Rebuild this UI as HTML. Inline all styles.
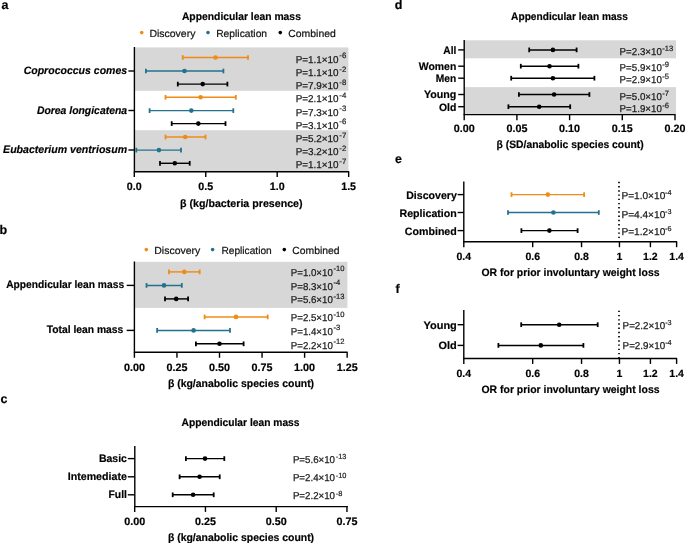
<!DOCTYPE html>
<html><head><meta charset="utf-8"><title>Figure</title>
<style>
html,body{margin:0;padding:0;background:#fff;}
svg{display:block;text-rendering:geometricPrecision;font-family:'Liberation Sans', Arial, Helvetica, sans-serif;}
</style></head><body>
<svg width="685" height="543" viewBox="0 0 685 543">
<rect width="685" height="543" fill="#fff"/>
<text x="1.50" y="9.00" text-anchor="start" fill="#000" style="font-size:12.5px;font-weight:bold;stroke:#000;stroke-width:0.18px;">a</text>
<text x="181.90" y="19.60" text-anchor="start" fill="#000" style="font-size:10.8px;font-weight:bold;stroke:#000;stroke-width:0.18px;" textLength="119.00" lengthAdjust="spacingAndGlyphs">Appendicular lean mass</text>
<circle cx="141.7" cy="32.60" r="1.8" fill="#F08C14"/>
<text stroke="#111" stroke-width="0.2" x="149.40" y="36.70" text-anchor="start" fill="#111" style="font-size:10.3px;" textLength="46.00" lengthAdjust="spacingAndGlyphs">Discovery</text>
<circle cx="208.0" cy="32.60" r="1.8" fill="#23728D"/>
<text stroke="#111" stroke-width="0.2" x="216.20" y="36.70" text-anchor="start" fill="#111" style="font-size:10.3px;" textLength="50.90" lengthAdjust="spacingAndGlyphs">Replication</text>
<circle cx="280.3" cy="32.60" r="1.8" fill="#000"/>
<text stroke="#111" stroke-width="0.2" x="288.30" y="36.70" text-anchor="start" fill="#111" style="font-size:10.3px;" textLength="47.50" lengthAdjust="spacingAndGlyphs">Combined</text>
<rect x="134.40" y="47.40" width="214.00" height="43.40" fill="#D7D7D7"/>
<rect x="134.40" y="130.20" width="214.00" height="41.30" fill="#D7D7D7"/>
<line x1="182.70" y1="57.50" x2="248.00" y2="57.50" stroke="#F08C14" stroke-width="1.45" />
<line x1="182.70" y1="55.15" x2="182.70" y2="59.85" stroke="#F08C14" stroke-width="1.7999999999999998" />
<line x1="248.00" y1="55.15" x2="248.00" y2="59.85" stroke="#F08C14" stroke-width="1.7999999999999998" />
<circle cx="215.50" cy="57.50" r="2.3" fill="#F08C14"/>
<text x="295.70" y="62.60" fill="#1a1a1a" stroke="#1a1a1a" stroke-width="0.25" style="font-size:10.0px" textLength="42.9" lengthAdjust="spacingAndGlyphs">P=1.1×10</text>
<text x="339.30" y="58.00" fill="#1a1a1a" stroke="#1a1a1a" stroke-width="0.2" style="font-size:7.8px">-6</text>
<line x1="145.90" y1="71.00" x2="223.40" y2="71.00" stroke="#23728D" stroke-width="1.45" />
<line x1="145.90" y1="68.65" x2="145.90" y2="73.35" stroke="#23728D" stroke-width="1.7999999999999998" />
<line x1="223.40" y1="68.65" x2="223.40" y2="73.35" stroke="#23728D" stroke-width="1.7999999999999998" />
<circle cx="184.50" cy="71.00" r="2.3" fill="#23728D"/>
<text x="295.70" y="76.10" fill="#1a1a1a" stroke="#1a1a1a" stroke-width="0.25" style="font-size:10.0px" textLength="42.9" lengthAdjust="spacingAndGlyphs">P=1.1×10</text>
<text x="339.30" y="71.50" fill="#1a1a1a" stroke="#1a1a1a" stroke-width="0.2" style="font-size:7.8px">-2</text>
<line x1="177.80" y1="84.10" x2="227.40" y2="84.10" stroke="#000" stroke-width="1.45" />
<line x1="177.80" y1="81.75" x2="177.80" y2="86.45" stroke="#000" stroke-width="1.7999999999999998" />
<line x1="227.40" y1="81.75" x2="227.40" y2="86.45" stroke="#000" stroke-width="1.7999999999999998" />
<circle cx="202.70" cy="84.10" r="2.3" fill="#000"/>
<text x="295.70" y="89.20" fill="#1a1a1a" stroke="#1a1a1a" stroke-width="0.25" style="font-size:10.0px" textLength="42.9" lengthAdjust="spacingAndGlyphs">P=7.9×10</text>
<text x="339.30" y="84.60" fill="#1a1a1a" stroke="#1a1a1a" stroke-width="0.2" style="font-size:7.8px">-8</text>
<line x1="165.50" y1="97.30" x2="235.80" y2="97.30" stroke="#F08C14" stroke-width="1.45" />
<line x1="165.50" y1="94.95" x2="165.50" y2="99.65" stroke="#F08C14" stroke-width="1.7999999999999998" />
<line x1="235.80" y1="94.95" x2="235.80" y2="99.65" stroke="#F08C14" stroke-width="1.7999999999999998" />
<circle cx="200.60" cy="97.30" r="2.3" fill="#F08C14"/>
<text x="295.70" y="102.40" fill="#1a1a1a" stroke="#1a1a1a" stroke-width="0.25" style="font-size:10.0px" textLength="42.9" lengthAdjust="spacingAndGlyphs">P=2.1×10</text>
<text x="339.30" y="97.80" fill="#1a1a1a" stroke="#1a1a1a" stroke-width="0.2" style="font-size:7.8px">-4</text>
<line x1="149.60" y1="110.60" x2="233.30" y2="110.60" stroke="#23728D" stroke-width="1.45" />
<line x1="149.60" y1="108.25" x2="149.60" y2="112.95" stroke="#23728D" stroke-width="1.7999999999999998" />
<line x1="233.30" y1="108.25" x2="233.30" y2="112.95" stroke="#23728D" stroke-width="1.7999999999999998" />
<circle cx="191.30" cy="110.60" r="2.3" fill="#23728D"/>
<text x="295.70" y="115.70" fill="#1a1a1a" stroke="#1a1a1a" stroke-width="0.25" style="font-size:10.0px" textLength="42.9" lengthAdjust="spacingAndGlyphs">P=7.3×10</text>
<text x="339.30" y="111.10" fill="#1a1a1a" stroke="#1a1a1a" stroke-width="0.2" style="font-size:7.8px">-3</text>
<line x1="171.70" y1="123.60" x2="225.50" y2="123.60" stroke="#000" stroke-width="1.45" />
<line x1="171.70" y1="121.25" x2="171.70" y2="125.95" stroke="#000" stroke-width="1.7999999999999998" />
<line x1="225.50" y1="121.25" x2="225.50" y2="125.95" stroke="#000" stroke-width="1.7999999999999998" />
<circle cx="198.30" cy="123.60" r="2.3" fill="#000"/>
<text x="295.70" y="128.70" fill="#1a1a1a" stroke="#1a1a1a" stroke-width="0.25" style="font-size:10.0px" textLength="42.9" lengthAdjust="spacingAndGlyphs">P=3.1×10</text>
<text x="339.30" y="124.10" fill="#1a1a1a" stroke="#1a1a1a" stroke-width="0.2" style="font-size:7.8px">-6</text>
<line x1="165.50" y1="137.00" x2="205.50" y2="137.00" stroke="#F08C14" stroke-width="1.45" />
<line x1="165.50" y1="134.65" x2="165.50" y2="139.35" stroke="#F08C14" stroke-width="1.7999999999999998" />
<line x1="205.50" y1="134.65" x2="205.50" y2="139.35" stroke="#F08C14" stroke-width="1.7999999999999998" />
<circle cx="185.20" cy="137.00" r="2.3" fill="#F08C14"/>
<text x="295.70" y="142.10" fill="#1a1a1a" stroke="#1a1a1a" stroke-width="0.25" style="font-size:10.0px" textLength="42.9" lengthAdjust="spacingAndGlyphs">P=5.2×10</text>
<text x="339.30" y="137.50" fill="#1a1a1a" stroke="#1a1a1a" stroke-width="0.2" style="font-size:7.8px">-7</text>
<line x1="136.30" y1="150.10" x2="181.00" y2="150.10" stroke="#23728D" stroke-width="1.45" />
<line x1="136.30" y1="147.75" x2="136.30" y2="152.45" stroke="#23728D" stroke-width="1.7999999999999998" />
<line x1="181.00" y1="147.75" x2="181.00" y2="152.45" stroke="#23728D" stroke-width="1.7999999999999998" />
<circle cx="158.90" cy="150.10" r="2.3" fill="#23728D"/>
<text x="295.70" y="155.20" fill="#1a1a1a" stroke="#1a1a1a" stroke-width="0.25" style="font-size:10.0px" textLength="42.9" lengthAdjust="spacingAndGlyphs">P=3.2×10</text>
<text x="339.30" y="150.60" fill="#1a1a1a" stroke="#1a1a1a" stroke-width="0.2" style="font-size:7.8px">-2</text>
<line x1="160.00" y1="163.30" x2="189.70" y2="163.30" stroke="#000" stroke-width="1.45" />
<line x1="160.00" y1="160.95" x2="160.00" y2="165.65" stroke="#000" stroke-width="1.7999999999999998" />
<line x1="189.70" y1="160.95" x2="189.70" y2="165.65" stroke="#000" stroke-width="1.7999999999999998" />
<circle cx="174.80" cy="163.30" r="2.3" fill="#000"/>
<text x="295.70" y="168.40" fill="#1a1a1a" stroke="#1a1a1a" stroke-width="0.25" style="font-size:10.0px" textLength="42.9" lengthAdjust="spacingAndGlyphs">P=1.1×10</text>
<text x="339.30" y="163.80" fill="#1a1a1a" stroke="#1a1a1a" stroke-width="0.2" style="font-size:7.8px">-7</text>
<line x1="134.40" y1="47.00" x2="134.40" y2="172.20" stroke="#000" stroke-width="1.4" />
<line x1="133.90" y1="171.70" x2="349.10" y2="171.70" stroke="#000" stroke-width="1.4" />
<line x1="134.30" y1="171.70" x2="134.30" y2="177.00" stroke="#000" stroke-width="1.4" />
<text x="134.30" y="190.10" text-anchor="middle" fill="#000" style="font-size:10.8px;font-weight:bold;stroke:#000;stroke-width:0.18px;" textLength="14.90" lengthAdjust="spacingAndGlyphs">0.0</text>
<line x1="205.75" y1="171.70" x2="205.75" y2="177.00" stroke="#000" stroke-width="1.4" />
<text x="205.75" y="190.10" text-anchor="middle" fill="#000" style="font-size:10.8px;font-weight:bold;stroke:#000;stroke-width:0.18px;" textLength="14.90" lengthAdjust="spacingAndGlyphs">0.5</text>
<line x1="277.20" y1="171.70" x2="277.20" y2="177.00" stroke="#000" stroke-width="1.4" />
<text x="277.20" y="190.10" text-anchor="middle" fill="#000" style="font-size:10.8px;font-weight:bold;stroke:#000;stroke-width:0.18px;" textLength="14.90" lengthAdjust="spacingAndGlyphs">1.0</text>
<line x1="348.65" y1="171.70" x2="348.65" y2="177.00" stroke="#000" stroke-width="1.4" />
<text x="348.65" y="190.10" text-anchor="middle" fill="#000" style="font-size:10.8px;font-weight:bold;stroke:#000;stroke-width:0.18px;" textLength="14.90" lengthAdjust="spacingAndGlyphs">1.5</text>
<line x1="128.40" y1="71.00" x2="134.40" y2="71.00" stroke="#000" stroke-width="1.4" />
<text x="23.70" y="74.30" text-anchor="start" fill="#000" style="font-size:10.8px;font-weight:bold;stroke:#000;stroke-width:0.18px;font-style:italic;" textLength="103.40" lengthAdjust="spacingAndGlyphs">Coprococcus comes</text>
<line x1="128.40" y1="110.50" x2="134.40" y2="110.50" stroke="#000" stroke-width="1.4" />
<text x="36.90" y="113.80" text-anchor="start" fill="#000" style="font-size:10.8px;font-weight:bold;stroke:#000;stroke-width:0.18px;font-style:italic;" textLength="90.20" lengthAdjust="spacingAndGlyphs">Dorea longicatena</text>
<line x1="128.40" y1="150.00" x2="134.40" y2="150.00" stroke="#000" stroke-width="1.4" />
<text x="3.10" y="153.30" text-anchor="start" fill="#000" style="font-size:10.8px;font-weight:bold;stroke:#000;stroke-width:0.18px;font-style:italic;" textLength="124.00" lengthAdjust="spacingAndGlyphs">Eubacterium ventriosum</text>
<text x="241.30" y="206.70" text-anchor="middle" fill="#000" style="font-size:10.8px;font-weight:bold;stroke:#000;stroke-width:0.18px;" textLength="122.50" lengthAdjust="spacingAndGlyphs">β (kg/bacteria presence)</text>
<text x="-0.50" y="234.20" text-anchor="start" fill="#000" style="font-size:12.5px;font-weight:bold;stroke:#000;stroke-width:0.18px;">b</text>
<circle cx="146.3" cy="249.60" r="1.8" fill="#F08C14"/>
<text stroke="#111" stroke-width="0.2" x="154.30" y="253.70" text-anchor="start" fill="#111" style="font-size:10.3px;" textLength="46.00" lengthAdjust="spacingAndGlyphs">Discovery</text>
<circle cx="212.6" cy="249.60" r="1.8" fill="#23728D"/>
<text stroke="#111" stroke-width="0.2" x="221.40" y="253.70" text-anchor="start" fill="#111" style="font-size:10.3px;" textLength="50.40" lengthAdjust="spacingAndGlyphs">Replication</text>
<circle cx="284.3" cy="249.60" r="1.8" fill="#000"/>
<text stroke="#111" stroke-width="0.2" x="292.30" y="253.70" text-anchor="start" fill="#111" style="font-size:10.3px;" textLength="47.30" lengthAdjust="spacingAndGlyphs">Combined</text>
<rect x="134.40" y="261.80" width="213.00" height="46.10" fill="#D7D7D7"/>
<line x1="169.00" y1="271.90" x2="199.70" y2="271.90" stroke="#F08C14" stroke-width="1.45" />
<line x1="169.00" y1="269.55" x2="169.00" y2="274.25" stroke="#F08C14" stroke-width="1.7999999999999998" />
<line x1="199.70" y1="269.55" x2="199.70" y2="274.25" stroke="#F08C14" stroke-width="1.7999999999999998" />
<circle cx="184.30" cy="271.90" r="2.3" fill="#F08C14"/>
<text x="290.80" y="276.00" fill="#1a1a1a" stroke="#1a1a1a" stroke-width="0.25" style="font-size:10.0px" textLength="42.0" lengthAdjust="spacingAndGlyphs">P=1.0×10</text>
<text x="333.40" y="271.40" fill="#1a1a1a" stroke="#1a1a1a" stroke-width="0.2" style="font-size:7.6px">-10</text>
<line x1="146.50" y1="285.40" x2="181.80" y2="285.40" stroke="#23728D" stroke-width="1.45" />
<line x1="146.50" y1="283.05" x2="146.50" y2="287.75" stroke="#23728D" stroke-width="1.7999999999999998" />
<line x1="181.80" y1="283.05" x2="181.80" y2="287.75" stroke="#23728D" stroke-width="1.7999999999999998" />
<circle cx="164.00" cy="285.40" r="2.3" fill="#23728D"/>
<text x="290.80" y="289.60" fill="#1a1a1a" stroke="#1a1a1a" stroke-width="0.25" style="font-size:10.0px" textLength="42.0" lengthAdjust="spacingAndGlyphs">P=8.3×10</text>
<text x="333.40" y="285.00" fill="#1a1a1a" stroke="#1a1a1a" stroke-width="0.2" style="font-size:7.6px">-4</text>
<line x1="165.00" y1="298.90" x2="188.10" y2="298.90" stroke="#000" stroke-width="1.45" />
<line x1="165.00" y1="296.55" x2="165.00" y2="301.25" stroke="#000" stroke-width="1.7999999999999998" />
<line x1="188.10" y1="296.55" x2="188.10" y2="301.25" stroke="#000" stroke-width="1.7999999999999998" />
<circle cx="176.20" cy="298.90" r="2.3" fill="#000"/>
<text x="290.80" y="303.40" fill="#1a1a1a" stroke="#1a1a1a" stroke-width="0.25" style="font-size:10.0px" textLength="42.0" lengthAdjust="spacingAndGlyphs">P=5.6×10</text>
<text x="333.40" y="298.80" fill="#1a1a1a" stroke="#1a1a1a" stroke-width="0.2" style="font-size:7.6px">-13</text>
<line x1="204.60" y1="316.90" x2="267.70" y2="316.90" stroke="#F08C14" stroke-width="1.45" />
<line x1="204.60" y1="314.55" x2="204.60" y2="319.25" stroke="#F08C14" stroke-width="1.7999999999999998" />
<line x1="267.70" y1="314.55" x2="267.70" y2="319.25" stroke="#F08C14" stroke-width="1.7999999999999998" />
<circle cx="236.00" cy="316.90" r="2.3" fill="#F08C14"/>
<text x="290.80" y="321.10" fill="#1a1a1a" stroke="#1a1a1a" stroke-width="0.25" style="font-size:10.0px" textLength="42.0" lengthAdjust="spacingAndGlyphs">P=2.5×10</text>
<text x="333.40" y="316.50" fill="#1a1a1a" stroke="#1a1a1a" stroke-width="0.2" style="font-size:7.6px">-10</text>
<line x1="157.10" y1="330.40" x2="230.00" y2="330.40" stroke="#23728D" stroke-width="1.45" />
<line x1="157.10" y1="328.05" x2="157.10" y2="332.75" stroke="#23728D" stroke-width="1.7999999999999998" />
<line x1="230.00" y1="328.05" x2="230.00" y2="332.75" stroke="#23728D" stroke-width="1.7999999999999998" />
<circle cx="193.60" cy="330.40" r="2.3" fill="#23728D"/>
<text x="290.80" y="334.90" fill="#1a1a1a" stroke="#1a1a1a" stroke-width="0.25" style="font-size:10.0px" textLength="42.0" lengthAdjust="spacingAndGlyphs">P=1.4×10</text>
<text x="333.40" y="330.30" fill="#1a1a1a" stroke="#1a1a1a" stroke-width="0.2" style="font-size:7.6px">-3</text>
<line x1="195.90" y1="343.80" x2="243.60" y2="343.80" stroke="#000" stroke-width="1.45" />
<line x1="195.90" y1="341.45" x2="195.90" y2="346.15" stroke="#000" stroke-width="1.7999999999999998" />
<line x1="243.60" y1="341.45" x2="243.60" y2="346.15" stroke="#000" stroke-width="1.7999999999999998" />
<circle cx="219.50" cy="343.80" r="2.3" fill="#000"/>
<text x="290.80" y="348.50" fill="#1a1a1a" stroke="#1a1a1a" stroke-width="0.25" style="font-size:10.0px" textLength="42.0" lengthAdjust="spacingAndGlyphs">P=2.2×10</text>
<text x="333.40" y="343.90" fill="#1a1a1a" stroke="#1a1a1a" stroke-width="0.2" style="font-size:7.6px">-12</text>
<line x1="134.40" y1="261.50" x2="134.40" y2="352.70" stroke="#000" stroke-width="1.4" />
<line x1="133.90" y1="352.20" x2="347.60" y2="352.20" stroke="#000" stroke-width="1.4" />
<line x1="134.40" y1="352.20" x2="134.40" y2="357.80" stroke="#000" stroke-width="1.4" />
<text x="134.40" y="370.60" text-anchor="middle" fill="#000" style="font-size:10.8px;font-weight:bold;stroke:#000;stroke-width:0.18px;" textLength="21.00" lengthAdjust="spacingAndGlyphs">0.00</text>
<line x1="176.95" y1="352.20" x2="176.95" y2="357.80" stroke="#000" stroke-width="1.4" />
<text x="176.95" y="370.60" text-anchor="middle" fill="#000" style="font-size:10.8px;font-weight:bold;stroke:#000;stroke-width:0.18px;" textLength="21.00" lengthAdjust="spacingAndGlyphs">0.25</text>
<line x1="219.50" y1="352.20" x2="219.50" y2="357.80" stroke="#000" stroke-width="1.4" />
<text x="219.50" y="370.60" text-anchor="middle" fill="#000" style="font-size:10.8px;font-weight:bold;stroke:#000;stroke-width:0.18px;" textLength="21.00" lengthAdjust="spacingAndGlyphs">0.50</text>
<line x1="262.05" y1="352.20" x2="262.05" y2="357.80" stroke="#000" stroke-width="1.4" />
<text x="262.05" y="370.60" text-anchor="middle" fill="#000" style="font-size:10.8px;font-weight:bold;stroke:#000;stroke-width:0.18px;" textLength="21.00" lengthAdjust="spacingAndGlyphs">0.75</text>
<line x1="304.60" y1="352.20" x2="304.60" y2="357.80" stroke="#000" stroke-width="1.4" />
<text x="304.60" y="370.60" text-anchor="middle" fill="#000" style="font-size:10.8px;font-weight:bold;stroke:#000;stroke-width:0.18px;" textLength="21.00" lengthAdjust="spacingAndGlyphs">1.00</text>
<line x1="347.15" y1="352.20" x2="347.15" y2="357.80" stroke="#000" stroke-width="1.4" />
<text x="347.15" y="370.60" text-anchor="middle" fill="#000" style="font-size:10.8px;font-weight:bold;stroke:#000;stroke-width:0.18px;" textLength="21.00" lengthAdjust="spacingAndGlyphs">1.25</text>
<line x1="126.70" y1="285.40" x2="134.40" y2="285.40" stroke="#000" stroke-width="1.4" />
<text x="124.10" y="288.10" text-anchor="end" fill="#000" style="font-size:10.8px;font-weight:bold;stroke:#000;stroke-width:0.18px;" textLength="117.90" lengthAdjust="spacingAndGlyphs">Appendicular lean mass</text>
<line x1="126.70" y1="330.40" x2="134.40" y2="330.40" stroke="#000" stroke-width="1.4" />
<text x="123.30" y="333.10" text-anchor="end" fill="#000" style="font-size:10.8px;font-weight:bold;stroke:#000;stroke-width:0.18px;" textLength="76.60" lengthAdjust="spacingAndGlyphs">Total lean mass</text>
<text x="241.00" y="386.70" text-anchor="middle" fill="#000" style="font-size:10.8px;font-weight:bold;stroke:#000;stroke-width:0.18px;" textLength="146.20" lengthAdjust="spacingAndGlyphs">β (kg/anabolic species count)</text>
<text x="0.60" y="403.30" text-anchor="start" fill="#000" style="font-size:12.5px;font-weight:bold;stroke:#000;stroke-width:0.18px;">c</text>
<text x="181.50" y="425.50" text-anchor="start" fill="#000" style="font-size:10.8px;font-weight:bold;stroke:#000;stroke-width:0.18px;" textLength="118.00" lengthAdjust="spacingAndGlyphs">Appendicular lean mass</text>
<line x1="185.90" y1="458.60" x2="224.30" y2="458.60" stroke="#000" stroke-width="1.45" />
<line x1="185.90" y1="456.25" x2="185.90" y2="460.95" stroke="#000" stroke-width="1.7999999999999998" />
<line x1="224.30" y1="456.25" x2="224.30" y2="460.95" stroke="#000" stroke-width="1.7999999999999998" />
<circle cx="205.00" cy="458.60" r="2.3" fill="#000"/>
<text x="292.90" y="463.20" fill="#1a1a1a" stroke="#1a1a1a" stroke-width="0.25" style="font-size:10.0px" textLength="42.1" lengthAdjust="spacingAndGlyphs">P=5.6×10</text>
<text x="335.80" y="459.30" fill="#1a1a1a" stroke="#1a1a1a" stroke-width="0.2" style="font-size:7.4px">-13</text>
<line x1="179.60" y1="476.80" x2="219.70" y2="476.80" stroke="#000" stroke-width="1.45" />
<line x1="179.60" y1="474.45" x2="179.60" y2="479.15" stroke="#000" stroke-width="1.7999999999999998" />
<line x1="219.70" y1="474.45" x2="219.70" y2="479.15" stroke="#000" stroke-width="1.7999999999999998" />
<circle cx="199.60" cy="476.80" r="2.3" fill="#000"/>
<text x="292.90" y="481.40" fill="#1a1a1a" stroke="#1a1a1a" stroke-width="0.25" style="font-size:10.0px" textLength="42.1" lengthAdjust="spacingAndGlyphs">P=2.4×10</text>
<text x="335.80" y="477.50" fill="#1a1a1a" stroke="#1a1a1a" stroke-width="0.2" style="font-size:7.4px">-10</text>
<line x1="172.70" y1="494.80" x2="213.70" y2="494.80" stroke="#000" stroke-width="1.45" />
<line x1="172.70" y1="492.45" x2="172.70" y2="497.15" stroke="#000" stroke-width="1.7999999999999998" />
<line x1="213.70" y1="492.45" x2="213.70" y2="497.15" stroke="#000" stroke-width="1.7999999999999998" />
<circle cx="193.10" cy="494.80" r="2.3" fill="#000"/>
<text x="292.90" y="499.40" fill="#1a1a1a" stroke="#1a1a1a" stroke-width="0.25" style="font-size:10.0px" textLength="42.1" lengthAdjust="spacingAndGlyphs">P=2.2×10</text>
<text x="335.80" y="495.50" fill="#1a1a1a" stroke="#1a1a1a" stroke-width="0.2" style="font-size:7.4px">-8</text>
<line x1="134.80" y1="446.10" x2="134.80" y2="507.10" stroke="#000" stroke-width="1.4" />
<line x1="134.30" y1="506.60" x2="347.90" y2="506.60" stroke="#000" stroke-width="1.4" />
<line x1="134.70" y1="506.60" x2="134.70" y2="511.90" stroke="#000" stroke-width="1.4" />
<text x="134.70" y="524.90" text-anchor="middle" fill="#000" style="font-size:10.8px;font-weight:bold;stroke:#000;stroke-width:0.18px;" textLength="21.00" lengthAdjust="spacingAndGlyphs">0.00</text>
<line x1="205.45" y1="506.60" x2="205.45" y2="511.90" stroke="#000" stroke-width="1.4" />
<text x="205.45" y="524.90" text-anchor="middle" fill="#000" style="font-size:10.8px;font-weight:bold;stroke:#000;stroke-width:0.18px;" textLength="21.00" lengthAdjust="spacingAndGlyphs">0.25</text>
<line x1="276.20" y1="506.60" x2="276.20" y2="511.90" stroke="#000" stroke-width="1.4" />
<text x="276.20" y="524.90" text-anchor="middle" fill="#000" style="font-size:10.8px;font-weight:bold;stroke:#000;stroke-width:0.18px;" textLength="21.00" lengthAdjust="spacingAndGlyphs">0.50</text>
<line x1="346.95" y1="506.60" x2="346.95" y2="511.90" stroke="#000" stroke-width="1.4" />
<text x="346.95" y="524.90" text-anchor="middle" fill="#000" style="font-size:10.8px;font-weight:bold;stroke:#000;stroke-width:0.18px;" textLength="21.00" lengthAdjust="spacingAndGlyphs">0.75</text>
<line x1="127.80" y1="458.60" x2="134.80" y2="458.60" stroke="#000" stroke-width="1.4" />
<text x="126.90" y="462.20" text-anchor="end" fill="#000" style="font-size:10.8px;font-weight:bold;stroke:#000;stroke-width:0.18px;" textLength="28.00" lengthAdjust="spacingAndGlyphs">Basic</text>
<line x1="127.80" y1="476.80" x2="134.80" y2="476.80" stroke="#000" stroke-width="1.4" />
<text x="126.90" y="480.40" text-anchor="end" fill="#000" style="font-size:10.8px;font-weight:bold;stroke:#000;stroke-width:0.18px;" textLength="59.20" lengthAdjust="spacingAndGlyphs">Intemediate</text>
<line x1="127.80" y1="494.80" x2="134.80" y2="494.80" stroke="#000" stroke-width="1.4" />
<text x="126.90" y="498.40" text-anchor="end" fill="#000" style="font-size:10.8px;font-weight:bold;stroke:#000;stroke-width:0.18px;" textLength="18.40" lengthAdjust="spacingAndGlyphs">Full</text>
<text x="241.00" y="540.70" text-anchor="middle" fill="#000" style="font-size:10.8px;font-weight:bold;stroke:#000;stroke-width:0.18px;" textLength="146.20" lengthAdjust="spacingAndGlyphs">β (kg/anabolic species count)</text>
<text x="394.70" y="8.60" text-anchor="start" fill="#000" style="font-size:12.5px;font-weight:bold;stroke:#000;stroke-width:0.18px;">d</text>
<text x="511.10" y="20.20" text-anchor="start" fill="#000" style="font-size:10.8px;font-weight:bold;stroke:#000;stroke-width:0.18px;" textLength="116.80" lengthAdjust="spacingAndGlyphs">Appendicular lean mass</text>
<rect x="464.20" y="40.30" width="211.80" height="18.00" fill="#D7D7D7"/>
<rect x="464.20" y="87.10" width="211.80" height="27.50" fill="#D7D7D7"/>
<line x1="529.20" y1="49.90" x2="576.60" y2="49.90" stroke="#000" stroke-width="1.45" />
<line x1="529.20" y1="47.55" x2="529.20" y2="52.25" stroke="#000" stroke-width="1.7999999999999998" />
<line x1="576.60" y1="47.55" x2="576.60" y2="52.25" stroke="#000" stroke-width="1.7999999999999998" />
<circle cx="552.90" cy="49.90" r="2.3" fill="#000"/>
<text x="619.60" y="54.90" fill="#1a1a1a" stroke="#1a1a1a" stroke-width="0.25" style="font-size:10.0px" textLength="42.2" lengthAdjust="spacingAndGlyphs">P=2.3×10</text>
<text x="662.30" y="51.10" fill="#1a1a1a" stroke="#1a1a1a" stroke-width="0.2" style="font-size:7.6px">-13</text>
<line x1="520.80" y1="66.20" x2="578.40" y2="66.20" stroke="#000" stroke-width="1.45" />
<line x1="520.80" y1="63.85" x2="520.80" y2="68.55" stroke="#000" stroke-width="1.7999999999999998" />
<line x1="578.40" y1="63.85" x2="578.40" y2="68.55" stroke="#000" stroke-width="1.7999999999999998" />
<circle cx="549.50" cy="66.20" r="2.3" fill="#000"/>
<text x="619.60" y="71.20" fill="#1a1a1a" stroke="#1a1a1a" stroke-width="0.25" style="font-size:10.0px" textLength="42.2" lengthAdjust="spacingAndGlyphs">P=5.9×10</text>
<text x="662.30" y="67.40" fill="#1a1a1a" stroke="#1a1a1a" stroke-width="0.2" style="font-size:7.6px">-9</text>
<line x1="511.20" y1="78.20" x2="594.40" y2="78.20" stroke="#000" stroke-width="1.45" />
<line x1="511.20" y1="75.85" x2="511.20" y2="80.55" stroke="#000" stroke-width="1.7999999999999998" />
<line x1="594.40" y1="75.85" x2="594.40" y2="80.55" stroke="#000" stroke-width="1.7999999999999998" />
<circle cx="552.90" cy="78.20" r="2.3" fill="#000"/>
<text x="619.60" y="83.20" fill="#1a1a1a" stroke="#1a1a1a" stroke-width="0.25" style="font-size:10.0px" textLength="42.2" lengthAdjust="spacingAndGlyphs">P=2.9×10</text>
<text x="662.30" y="79.40" fill="#1a1a1a" stroke="#1a1a1a" stroke-width="0.2" style="font-size:7.6px">-5</text>
<line x1="518.90" y1="94.50" x2="589.40" y2="94.50" stroke="#000" stroke-width="1.45" />
<line x1="518.90" y1="92.15" x2="518.90" y2="96.85" stroke="#000" stroke-width="1.7999999999999998" />
<line x1="589.40" y1="92.15" x2="589.40" y2="96.85" stroke="#000" stroke-width="1.7999999999999998" />
<circle cx="554.10" cy="94.50" r="2.3" fill="#000"/>
<text x="619.60" y="99.50" fill="#1a1a1a" stroke="#1a1a1a" stroke-width="0.25" style="font-size:10.0px" textLength="42.2" lengthAdjust="spacingAndGlyphs">P=5.0×10</text>
<text x="662.30" y="95.70" fill="#1a1a1a" stroke="#1a1a1a" stroke-width="0.2" style="font-size:7.6px">-7</text>
<line x1="508.40" y1="106.70" x2="570.20" y2="106.70" stroke="#000" stroke-width="1.45" />
<line x1="508.40" y1="104.35" x2="508.40" y2="109.05" stroke="#000" stroke-width="1.7999999999999998" />
<line x1="570.20" y1="104.35" x2="570.20" y2="109.05" stroke="#000" stroke-width="1.7999999999999998" />
<circle cx="539.20" cy="106.70" r="2.3" fill="#000"/>
<text x="619.60" y="111.70" fill="#1a1a1a" stroke="#1a1a1a" stroke-width="0.25" style="font-size:10.0px" textLength="42.2" lengthAdjust="spacingAndGlyphs">P=1.9×10</text>
<text x="662.30" y="107.90" fill="#1a1a1a" stroke="#1a1a1a" stroke-width="0.2" style="font-size:7.6px">-6</text>
<line x1="464.20" y1="40.00" x2="464.20" y2="115.10" stroke="#000" stroke-width="1.4" />
<line x1="463.70" y1="114.60" x2="675.50" y2="114.60" stroke="#000" stroke-width="1.4" />
<line x1="464.20" y1="114.60" x2="464.20" y2="120.20" stroke="#000" stroke-width="1.4" />
<text x="464.20" y="132.40" text-anchor="middle" fill="#000" style="font-size:10.8px;font-weight:bold;stroke:#000;stroke-width:0.18px;" textLength="21.00" lengthAdjust="spacingAndGlyphs">0.00</text>
<line x1="516.90" y1="114.60" x2="516.90" y2="120.20" stroke="#000" stroke-width="1.4" />
<text x="516.90" y="132.40" text-anchor="middle" fill="#000" style="font-size:10.8px;font-weight:bold;stroke:#000;stroke-width:0.18px;" textLength="21.00" lengthAdjust="spacingAndGlyphs">0.05</text>
<line x1="569.60" y1="114.60" x2="569.60" y2="120.20" stroke="#000" stroke-width="1.4" />
<text x="569.60" y="132.40" text-anchor="middle" fill="#000" style="font-size:10.8px;font-weight:bold;stroke:#000;stroke-width:0.18px;" textLength="21.00" lengthAdjust="spacingAndGlyphs">0.10</text>
<line x1="622.30" y1="114.60" x2="622.30" y2="120.20" stroke="#000" stroke-width="1.4" />
<text x="622.30" y="132.40" text-anchor="middle" fill="#000" style="font-size:10.8px;font-weight:bold;stroke:#000;stroke-width:0.18px;" textLength="21.00" lengthAdjust="spacingAndGlyphs">0.15</text>
<line x1="675.00" y1="114.60" x2="675.00" y2="120.20" stroke="#000" stroke-width="1.4" />
<text x="675.00" y="132.40" text-anchor="middle" fill="#000" style="font-size:10.8px;font-weight:bold;stroke:#000;stroke-width:0.18px;" textLength="21.00" lengthAdjust="spacingAndGlyphs">0.20</text>
<line x1="458.20" y1="49.90" x2="464.20" y2="49.90" stroke="#000" stroke-width="1.4" />
<text x="456.30" y="53.80" text-anchor="end" fill="#000" style="font-size:10.8px;font-weight:bold;stroke:#000;stroke-width:0.18px;" textLength="13.00" lengthAdjust="spacingAndGlyphs">All</text>
<line x1="458.20" y1="66.20" x2="464.20" y2="66.20" stroke="#000" stroke-width="1.4" />
<text x="456.30" y="70.10" text-anchor="end" fill="#000" style="font-size:10.8px;font-weight:bold;stroke:#000;stroke-width:0.18px;" textLength="37.50" lengthAdjust="spacingAndGlyphs">Women</text>
<line x1="458.20" y1="78.20" x2="464.20" y2="78.20" stroke="#000" stroke-width="1.4" />
<text x="456.30" y="82.10" text-anchor="end" fill="#000" style="font-size:10.8px;font-weight:bold;stroke:#000;stroke-width:0.18px;" textLength="20.50" lengthAdjust="spacingAndGlyphs">Men</text>
<line x1="458.20" y1="94.50" x2="464.20" y2="94.50" stroke="#000" stroke-width="1.4" />
<text x="456.30" y="98.40" text-anchor="end" fill="#000" style="font-size:10.8px;font-weight:bold;stroke:#000;stroke-width:0.18px;" textLength="32.40" lengthAdjust="spacingAndGlyphs">Young</text>
<line x1="458.20" y1="106.70" x2="464.20" y2="106.70" stroke="#000" stroke-width="1.4" />
<text x="456.30" y="110.60" text-anchor="end" fill="#000" style="font-size:10.8px;font-weight:bold;stroke:#000;stroke-width:0.18px;" textLength="17.40" lengthAdjust="spacingAndGlyphs">Old</text>
<text x="570.10" y="147.90" text-anchor="middle" fill="#000" style="font-size:10.8px;font-weight:bold;stroke:#000;stroke-width:0.18px;" textLength="147.20" lengthAdjust="spacingAndGlyphs">β (SD/anabolic species count)</text>
<text x="395.00" y="162.80" text-anchor="start" fill="#000" style="font-size:12.5px;font-weight:bold;stroke:#000;stroke-width:0.18px;">e</text>
<line x1="511.50" y1="194.60" x2="584.10" y2="194.60" stroke="#F08C14" stroke-width="1.45" />
<line x1="511.50" y1="192.25" x2="511.50" y2="196.95" stroke="#F08C14" stroke-width="1.7999999999999998" />
<line x1="584.10" y1="192.25" x2="584.10" y2="196.95" stroke="#F08C14" stroke-width="1.7999999999999998" />
<circle cx="547.80" cy="194.60" r="2.3" fill="#F08C14"/>
<text x="621.40" y="198.50" fill="#1a1a1a" stroke="#1a1a1a" stroke-width="0.25" style="font-size:10.0px" textLength="43.9" lengthAdjust="spacingAndGlyphs">P=1.0×10</text>
<text x="665.00" y="194.50" fill="#1a1a1a" stroke="#1a1a1a" stroke-width="0.2" style="font-size:7.2px">-4</text>
<line x1="508.00" y1="212.50" x2="598.80" y2="212.50" stroke="#23728D" stroke-width="1.45" />
<line x1="508.00" y1="210.15" x2="508.00" y2="214.85" stroke="#23728D" stroke-width="1.7999999999999998" />
<line x1="598.80" y1="210.15" x2="598.80" y2="214.85" stroke="#23728D" stroke-width="1.7999999999999998" />
<circle cx="553.40" cy="212.50" r="2.3" fill="#23728D"/>
<text x="621.40" y="217.60" fill="#1a1a1a" stroke="#1a1a1a" stroke-width="0.25" style="font-size:10.0px" textLength="43.9" lengthAdjust="spacingAndGlyphs">P=4.4×10</text>
<text x="665.00" y="213.60" fill="#1a1a1a" stroke="#1a1a1a" stroke-width="0.2" style="font-size:7.2px">-3</text>
<line x1="521.40" y1="230.60" x2="577.60" y2="230.60" stroke="#000" stroke-width="1.45" />
<line x1="521.40" y1="228.25" x2="521.40" y2="232.95" stroke="#000" stroke-width="1.7999999999999998" />
<line x1="577.60" y1="228.25" x2="577.60" y2="232.95" stroke="#000" stroke-width="1.7999999999999998" />
<circle cx="549.40" cy="230.60" r="2.3" fill="#000"/>
<text x="621.40" y="234.60" fill="#1a1a1a" stroke="#1a1a1a" stroke-width="0.25" style="font-size:10.0px" textLength="43.9" lengthAdjust="spacingAndGlyphs">P=1.2×10</text>
<text x="665.00" y="230.60" fill="#1a1a1a" stroke="#1a1a1a" stroke-width="0.2" style="font-size:7.2px">-6</text>
<line x1="463.80" y1="181.50" x2="463.80" y2="242.30" stroke="#000" stroke-width="1.4" />
<line x1="463.30" y1="241.80" x2="677.10" y2="241.80" stroke="#000" stroke-width="1.4" />
<line x1="619.00" y1="181.80" x2="619.00" y2="241.80" stroke="#000" stroke-width="1.7" stroke-dasharray="1.4 2.82"/>
<line x1="463.80" y1="241.80" x2="463.80" y2="247.20" stroke="#000" stroke-width="1.4" />
<text x="463.80" y="259.90" text-anchor="middle" fill="#000" style="font-size:10.5px;font-weight:bold;stroke:#000;stroke-width:0.18px;">0.4</text>
<line x1="532.68" y1="241.80" x2="532.68" y2="247.20" stroke="#000" stroke-width="1.4" />
<text x="532.68" y="259.90" text-anchor="middle" fill="#000" style="font-size:10.5px;font-weight:bold;stroke:#000;stroke-width:0.18px;">0.6</text>
<line x1="581.54" y1="241.80" x2="581.54" y2="247.20" stroke="#000" stroke-width="1.4" />
<text x="581.54" y="259.90" text-anchor="middle" fill="#000" style="font-size:10.5px;font-weight:bold;stroke:#000;stroke-width:0.18px;">0.8</text>
<line x1="619.45" y1="241.80" x2="619.45" y2="247.20" stroke="#000" stroke-width="1.4" />
<text x="619.45" y="259.90" text-anchor="middle" fill="#000" style="font-size:10.5px;font-weight:bold;stroke:#000;stroke-width:0.18px;">1</text>
<line x1="650.42" y1="241.80" x2="650.42" y2="247.20" stroke="#000" stroke-width="1.4" />
<text x="650.42" y="259.90" text-anchor="middle" fill="#000" style="font-size:10.5px;font-weight:bold;stroke:#000;stroke-width:0.18px;">1.2</text>
<line x1="676.61" y1="241.80" x2="676.61" y2="247.20" stroke="#000" stroke-width="1.4" />
<text x="676.61" y="259.90" text-anchor="middle" fill="#000" style="font-size:10.5px;font-weight:bold;stroke:#000;stroke-width:0.18px;">1.4</text>
<line x1="457.60" y1="194.60" x2="463.80" y2="194.60" stroke="#000" stroke-width="1.4" />
<text x="456.80" y="198.60" text-anchor="end" fill="#000" style="font-size:10.8px;font-weight:bold;stroke:#000;stroke-width:0.18px;" textLength="50.60" lengthAdjust="spacingAndGlyphs">Discovery</text>
<line x1="457.60" y1="212.50" x2="463.80" y2="212.50" stroke="#000" stroke-width="1.4" />
<text x="456.80" y="216.50" text-anchor="end" fill="#000" style="font-size:10.8px;font-weight:bold;stroke:#000;stroke-width:0.18px;" textLength="57.30" lengthAdjust="spacingAndGlyphs">Replication</text>
<line x1="457.60" y1="230.60" x2="463.80" y2="230.60" stroke="#000" stroke-width="1.4" />
<text x="456.80" y="234.60" text-anchor="end" fill="#000" style="font-size:10.8px;font-weight:bold;stroke:#000;stroke-width:0.18px;" textLength="52.00" lengthAdjust="spacingAndGlyphs">Combined</text>
<text x="570.50" y="276.00" text-anchor="middle" fill="#000" style="font-size:10.8px;font-weight:bold;stroke:#000;stroke-width:0.18px;" textLength="178.00" lengthAdjust="spacingAndGlyphs">OR for prior involuntary weight loss</text>
<text x="395.60" y="292.60" text-anchor="start" fill="#000" style="font-size:12.5px;font-weight:bold;stroke:#000;stroke-width:0.18px;">f</text>
<line x1="521.20" y1="324.70" x2="597.70" y2="324.70" stroke="#000" stroke-width="1.45" />
<line x1="521.20" y1="322.35" x2="521.20" y2="327.05" stroke="#000" stroke-width="1.7999999999999998" />
<line x1="597.70" y1="322.35" x2="597.70" y2="327.05" stroke="#000" stroke-width="1.7999999999999998" />
<circle cx="559.20" cy="324.70" r="2.3" fill="#000"/>
<text x="622.60" y="328.50" fill="#1a1a1a" stroke="#1a1a1a" stroke-width="0.25" style="font-size:10.0px" textLength="42.5" lengthAdjust="spacingAndGlyphs">P=2.2×10</text>
<text x="665.20" y="324.50" fill="#1a1a1a" stroke="#1a1a1a" stroke-width="0.2" style="font-size:7.2px">-3</text>
<line x1="498.40" y1="345.40" x2="583.40" y2="345.40" stroke="#000" stroke-width="1.45" />
<line x1="498.40" y1="343.05" x2="498.40" y2="347.75" stroke="#000" stroke-width="1.7999999999999998" />
<line x1="583.40" y1="343.05" x2="583.40" y2="347.75" stroke="#000" stroke-width="1.7999999999999998" />
<circle cx="540.80" cy="345.40" r="2.3" fill="#000"/>
<text x="622.60" y="349.20" fill="#1a1a1a" stroke="#1a1a1a" stroke-width="0.25" style="font-size:10.0px" textLength="42.5" lengthAdjust="spacingAndGlyphs">P=2.9×10</text>
<text x="665.20" y="345.20" fill="#1a1a1a" stroke="#1a1a1a" stroke-width="0.2" style="font-size:7.2px">-4</text>
<line x1="463.80" y1="310.00" x2="463.80" y2="359.00" stroke="#000" stroke-width="1.4" />
<line x1="463.30" y1="358.50" x2="677.10" y2="358.50" stroke="#000" stroke-width="1.4" />
<line x1="619.00" y1="310.70" x2="619.00" y2="358.50" stroke="#000" stroke-width="1.7" stroke-dasharray="1.4 2.82"/>
<line x1="463.80" y1="358.50" x2="463.80" y2="363.90" stroke="#000" stroke-width="1.4" />
<text x="463.80" y="376.60" text-anchor="middle" fill="#000" style="font-size:10.5px;font-weight:bold;stroke:#000;stroke-width:0.18px;">0.4</text>
<line x1="532.68" y1="358.50" x2="532.68" y2="363.90" stroke="#000" stroke-width="1.4" />
<text x="532.68" y="376.60" text-anchor="middle" fill="#000" style="font-size:10.5px;font-weight:bold;stroke:#000;stroke-width:0.18px;">0.6</text>
<line x1="581.54" y1="358.50" x2="581.54" y2="363.90" stroke="#000" stroke-width="1.4" />
<text x="581.54" y="376.60" text-anchor="middle" fill="#000" style="font-size:10.5px;font-weight:bold;stroke:#000;stroke-width:0.18px;">0.8</text>
<line x1="619.45" y1="358.50" x2="619.45" y2="363.90" stroke="#000" stroke-width="1.4" />
<text x="619.45" y="376.60" text-anchor="middle" fill="#000" style="font-size:10.5px;font-weight:bold;stroke:#000;stroke-width:0.18px;">1</text>
<line x1="650.42" y1="358.50" x2="650.42" y2="363.90" stroke="#000" stroke-width="1.4" />
<text x="650.42" y="376.60" text-anchor="middle" fill="#000" style="font-size:10.5px;font-weight:bold;stroke:#000;stroke-width:0.18px;">1.2</text>
<line x1="676.61" y1="358.50" x2="676.61" y2="363.90" stroke="#000" stroke-width="1.4" />
<text x="676.61" y="376.60" text-anchor="middle" fill="#000" style="font-size:10.5px;font-weight:bold;stroke:#000;stroke-width:0.18px;">1.4</text>
<line x1="457.60" y1="324.70" x2="463.80" y2="324.70" stroke="#000" stroke-width="1.4" />
<text x="456.80" y="328.70" text-anchor="end" fill="#000" style="font-size:10.8px;font-weight:bold;stroke:#000;stroke-width:0.18px;" textLength="33.30" lengthAdjust="spacingAndGlyphs">Young</text>
<line x1="457.60" y1="345.40" x2="463.80" y2="345.40" stroke="#000" stroke-width="1.4" />
<text x="456.80" y="349.40" text-anchor="end" fill="#000" style="font-size:10.8px;font-weight:bold;stroke:#000;stroke-width:0.18px;" textLength="18.30" lengthAdjust="spacingAndGlyphs">Old</text>
<text x="570.50" y="392.70" text-anchor="middle" fill="#000" style="font-size:10.8px;font-weight:bold;stroke:#000;stroke-width:0.18px;" textLength="178.00" lengthAdjust="spacingAndGlyphs">OR for prior involuntary weight loss</text>
</svg>
</body></html>
